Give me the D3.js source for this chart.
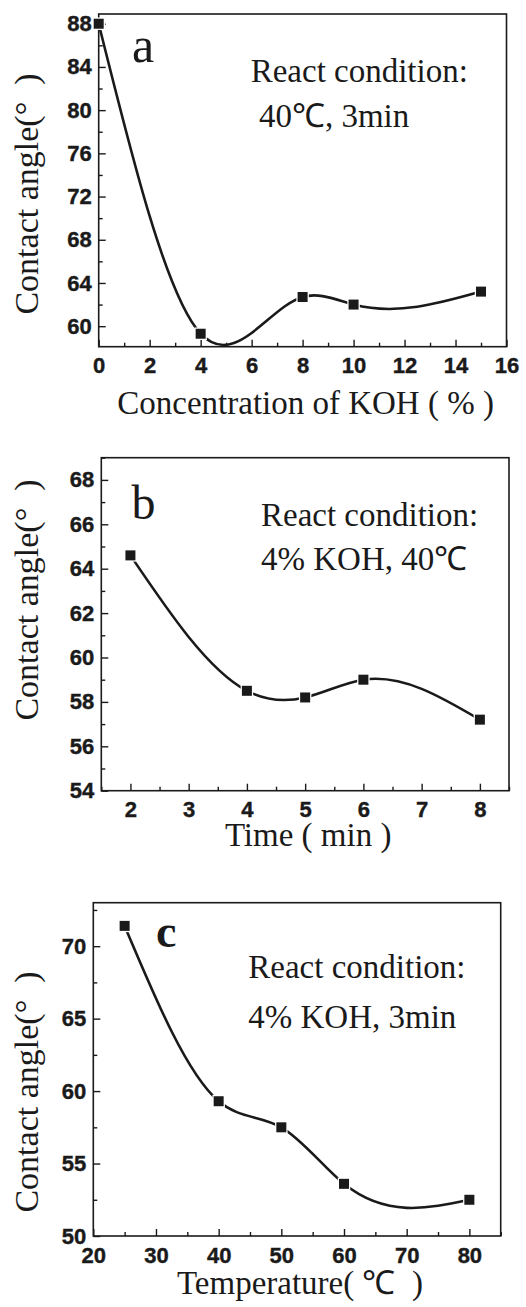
<!DOCTYPE html>
<html>
<head>
<meta charset="utf-8">
<script src="https://cdn.jsdelivr.net/npm/d3@7"></script>
<style>
  body { margin: 0; background: #fff; }
  svg { display: block; }
  .serif { font-family: "Liberation Serif", "Times New Roman", serif; fill: #1a1a1a; white-space: pre; }
</style>
</head>
<body>
<svg id="chart" width="526" height="1307"></svg>
<script>
// panel a: concentration of KOH
const koh = [0, 4, 8, 10, 15];
const angleA = [88, 59.3, 62.7, 62.0, 63.2];
const xTicksA = [0, 2, 4, 6, 8, 10, 12, 14, 16];
const yTicksA = [60, 64, 68, 72, 76, 80, 84, 88];

// panel b: time
const time = [2, 4, 5, 6, 8];
const angleB = [64.6, 58.5, 58.2, 59.0, 57.2];
const xTicksB = [2, 3, 4, 5, 6, 7, 8];
const yTicksB = [54, 56, 58, 60, 62, 64, 66, 68];

// panel c: temperature
const temp = [25, 40, 50, 60, 80];
const angleC = [71.4, 59.3, 57.5, 53.6, 52.5];
const xTicksC = [20, 30, 40, 50, 60, 70, 80];
const yTicksC = [50, 55, 60, 65, 70];

const svg = d3.select("#chart");
const ink = "#1a1a1a";

// natural cubic spline of y over x (like Origin's spline connector), as a d3 curve
function curveSplineX(context) {
  let xs, ys;
  return {
    areaStart() {}, areaEnd() {},
    lineStart() { xs = []; ys = []; },
    point(x, y) { xs.push(+x); ys.push(+y); },
    lineEnd() {
      const n = xs.length;
      if (!n) return;
      context.moveTo(xs[0], ys[0]);
      if (n < 3) { if (n === 2) context.lineTo(xs[1], ys[1]); return; }
      const h = d3.range(n - 1).map(i => xs[i + 1] - xs[i]);
      const d = d3.range(n - 1).map(i => (ys[i + 1] - ys[i]) / h[i]);
      // tridiagonal solve for second derivatives, M[0] = M[n-1] = 0
      const M = new Array(n).fill(0);
      const a = [], b = [], c = [], r = [];
      for (let i = 1; i < n - 1; i++) {
        a.push(h[i - 1]); b.push(2 * (h[i - 1] + h[i])); c.push(h[i]);
        r.push(6 * (d[i] - d[i - 1]));
      }
      const m = b.length;
      for (let i = 1; i < m; i++) {
        const w = a[i] / b[i - 1];
        b[i] -= w * c[i - 1];
        r[i] -= w * r[i - 1];
      }
      const sol = new Array(m);
      sol[m - 1] = r[m - 1] / b[m - 1];
      for (let i = m - 2; i >= 0; i--) sol[i] = (r[i] - c[i] * sol[i + 1]) / b[i];
      for (let i = 0; i < m; i++) M[i + 1] = sol[i];
      for (let i = 0; i < n - 1; i++) {
        const s0 = d[i] - h[i] * (2 * M[i] + M[i + 1]) / 6;
        const s1 = d[i] + h[i] * (M[i] + 2 * M[i + 1]) / 6;
        context.bezierCurveTo(
          xs[i] + h[i] / 3, ys[i] + s0 * h[i] / 3,
          xs[i + 1] - h[i] / 3, ys[i + 1] - s1 * h[i] / 3,
          xs[i + 1], ys[i + 1]);
      }
    }
  };
}

const panels = [
  { x: koh, y: angleA, xTicks: xTicksA, yTicks: yTicksA, xMinor: 1, yMinor: 2,
    xDom: [0, 16], yDom: [58.1, 88.9], box: { l: 98.7, r: 506.5, t: 14, b: 346.7 },
    letter: "a", letterBold: false, letterSize: 50, letterPos: [132, 62],
    note: ["React condition:", " 40℃, 3min"], notePos: [250.7, 81.7], noteGap: 45,
    xTitle: "Concentration of KOH ( % )", xTitleY: 414, yTitleY: 194 },
  { x: time, y: angleB, xTicks: xTicksB, yTicks: yTicksB, xMinor: 0.5, yMinor: 1,
    xDom: [1.5, 8.5], yDom: [54, 69], box: { l: 101.3, r: 509, t: 457.7, b: 790.7 },
    letter: "b", letterBold: false, letterSize: 48, letterPos: [131.5, 519],
    note: ["React condition:", "4% KOH, 40℃"], notePos: [261, 526], noteGap: 43.5,
    xTitle: "Time ( min )", xTitleY: 846, yTitleY: 600 },
  { x: temp, y: angleC, xTicks: xTicksC, yTicks: yTicksC, xMinor: 5, yMinor: 2.5,
    xDom: [20, 85], yDom: [50, 73], box: { l: 93.3, r: 500.7, t: 902.7, b: 1236 },
    letter: "c", letterBold: true, letterSize: 46, letterPos: [156, 946.5],
    note: ["React condition:", "4% KOH, 3min"], notePos: [248.3, 978.3], noteGap: 50,
    xTitle: "Temperature( ℃  )", xTitleY: 1294, yTitleY: 1092 }
];

function styleAxis(a) {
  a.select(".domain").remove();
  a.selectAll("line").attr("stroke", ink).attr("stroke-width", 1.4);
  a.selectAll("text")
    .attr("fill", ink)
    .attr("stroke", ink)
    .attr("stroke-width", 0.4)
    .style("font-family", "'Liberation Sans', Arial, sans-serif")
    .style("font-weight", "bold")
    .style("font-size", "22px");
}

panels.forEach(p => {
  const xScale = d3.scaleLinear().domain(p.xDom).range([p.box.l, p.box.r]);
  const yScale = d3.scaleLinear().domain(p.yDom).range([p.box.b, p.box.t]);
  const g = svg.append("g");

  // minor ticks
  const xMinorVals = d3.range(p.xDom[0], p.xDom[1] + 1e-9, p.xMinor).filter(v => !p.xTicks.includes(v));
  const yMinorVals = d3.range(Math.ceil(p.yDom[0] / p.yMinor) * p.yMinor, p.yDom[1] + 1e-9, p.yMinor).filter(v => !p.yTicks.includes(v));

  g.append("g")
    .attr("transform", `translate(0,${p.box.b})`)
    .call(d3.axisBottom(xScale).tickValues(xMinorVals).tickSize(-4).tickFormat(""))
    .call(styleAxis);

  g.append("g")
    .attr("transform", `translate(${p.box.l},0)`)
    .call(d3.axisLeft(yScale).tickValues(yMinorVals).tickSize(-4).tickFormat(""))
    .call(styleAxis);

  // major ticks
  g.append("g")
    .attr("transform", `translate(0,${p.box.b})`)
    .call(d3.axisBottom(xScale).tickValues(p.xTicks).tickSize(-7).tickPadding(11).tickFormat(d3.format("d")))
    .call(styleAxis);

  g.append("g")
    .attr("transform", `translate(${p.box.l},0)`)
    .call(d3.axisLeft(yScale).tickValues(p.yTicks).tickSize(-7).tickPadding(7).tickFormat(d3.format("d")))
    .call(styleAxis);

  // frame
  g.append("rect")
    .attr("x", p.box.l).attr("y", p.box.t)
    .attr("width", p.box.r - p.box.l).attr("height", p.box.b - p.box.t)
    .attr("fill", "none").attr("stroke", ink).attr("stroke-width", 1.6);

  const pts = p.x.map((v, i) => [v, p.y[i]]);

  const line = d3.line()
    .x(d => xScale(d[0]))
    .y(d => yScale(d[1]))
    .curve(curveSplineX);

  g.append("path")
    .datum(pts)
    .attr("fill", "none")
    .attr("stroke", ink)
    .attr("stroke-width", 2.6)
    .attr("d", line);

  g.selectAll("rect.pt")
    .data(pts)
    .join("rect")
    .attr("class", "pt")
    .attr("x", d => xScale(d[0]) - 5)
    .attr("y", d => yScale(d[1]) - 5)
    .attr("width", 10).attr("height", 10)
    .attr("fill", ink)
    .attr("stroke", "#fff")
    .attr("stroke-width", 2.5)
    .attr("paint-order", "stroke");

  // panel letter
  g.append("text")
    .attr("class", "serif")
    .attr("x", p.letterPos[0]).attr("y", p.letterPos[1])
    .attr("font-size", p.letterSize)
    .attr("font-weight", p.letterBold ? "bold" : "normal")
    .text(p.letter);

  // react condition note
  p.note.forEach((t, i) => {
    g.append("text")
      .attr("class", "serif")
      .attr("x", p.notePos[0]).attr("y", p.notePos[1] + i * p.noteGap)
      .attr("font-size", 33)
      .text(t);
  });

  // axis titles
  g.append("text")
    .attr("class", "serif")
    .attr("x", (p.box.l + p.box.r) / 2 + 3).attr("y", p.xTitleY)
    .attr("text-anchor", "middle")
    .attr("font-size", 33)
    .text(p.xTitle);

  g.append("text")
    .attr("class", "serif")
    .attr("transform", `translate(38,${p.yTitleY}) rotate(-90)`)
    .attr("text-anchor", "middle")
    .attr("font-size", 34)
    .text("Contact angle(°  )");
});
</script>
</body>
</html>
